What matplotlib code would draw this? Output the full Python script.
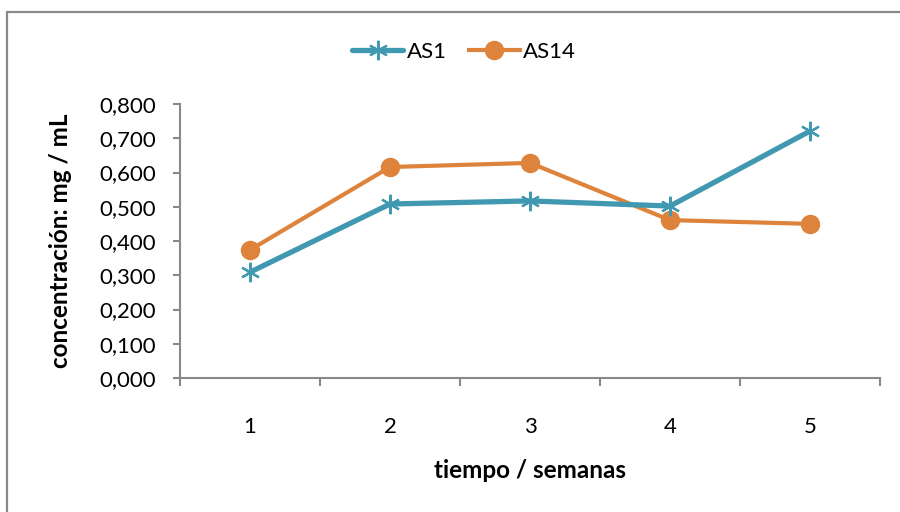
import matplotlib
matplotlib.use("Agg")
import matplotlib.pyplot as plt
from matplotlib.patches import Rectangle
from matplotlib.ticker import FuncFormatter, FixedLocator

plt.rcParams['font.family'] = ['Lato', 'DejaVu Sans']

weeks = [1, 2, 3, 4, 5]
as1 = [0.309, 0.508, 0.517, 0.502, 0.721]
as14 = [0.374, 0.616, 0.628, 0.461, 0.450]
yticks = [0.0, 0.1, 0.2, 0.3, 0.4, 0.5, 0.6, 0.7, 0.8]

teal = '#4199B1'
orange = '#DE833B'
grey = '#898989'

fig = plt.figure(figsize=(9, 5.12), dpi=100)
fig.patches.append(Rectangle((7 / 900, -0.1), 1.2, 1 - 12 / 512 + 0.1,
                             transform=fig.transFigure, fill=False,
                             edgecolor=grey, linewidth=1.6))

ax = fig.add_axes([180 / 900, 1 - 378 / 512, 700 / 900, 274 / 512])

ax.plot(weeks, as1, color=teal, linewidth=3.8, marker=(6, 2, 0),
        markersize=14, markeredgewidth=1.6, markeredgecolor=teal,
        label='AS1', solid_capstyle='round', zorder=3)
ax.plot(weeks, as14, color=orange, linewidth=3.0, marker='o',
        markersize=13, markerfacecolor=orange, markeredgecolor=orange,
        label='AS14', zorder=2)

ax.set_xlim(0.5, 5.5)
ax.set_ylim(0, 0.8)

for s in ['top', 'right']:
    ax.spines[s].set_visible(False)
for s in ['left', 'bottom']:
    ax.spines[s].set_color(grey)
    ax.spines[s].set_linewidth(1.5)

ax.set_yticks(yticks)
ax.yaxis.set_major_formatter(FuncFormatter(lambda v, p: f"{v:.3f}".replace('.', ',')))
ax.tick_params(axis='y', direction='out', length=5, width=1.5, color=grey,
               labelsize=16, pad=12, labelcolor='black')

ax.set_xticks(weeks)
ax.set_xticklabels([str(w) for w in weeks])
ax.xaxis.set_minor_locator(FixedLocator([0.5, 1.5, 2.5, 3.5, 4.5, 5.5]))
ax.tick_params(axis='x', which='major', length=0, labelsize=16, pad=28)
ax.tick_params(axis='x', which='minor', direction='out', length=6, width=1.5, color=grey)

ax.set_xlabel('tiempo / semanas', fontsize=17.5, fontweight='bold', labelpad=16)
ax.set_ylabel('concentración: mg / mL', fontsize=17.5, fontweight='bold', labelpad=20)

leg = fig.legend(loc='center', bbox_to_anchor=(464 / 900, 1 - 52 / 512), ncol=2,
                 frameon=False, fontsize=16, handlelength=2.3, columnspacing=1.0,
                 handletextpad=0.15)

fig.savefig('out.png', dpi=100)
